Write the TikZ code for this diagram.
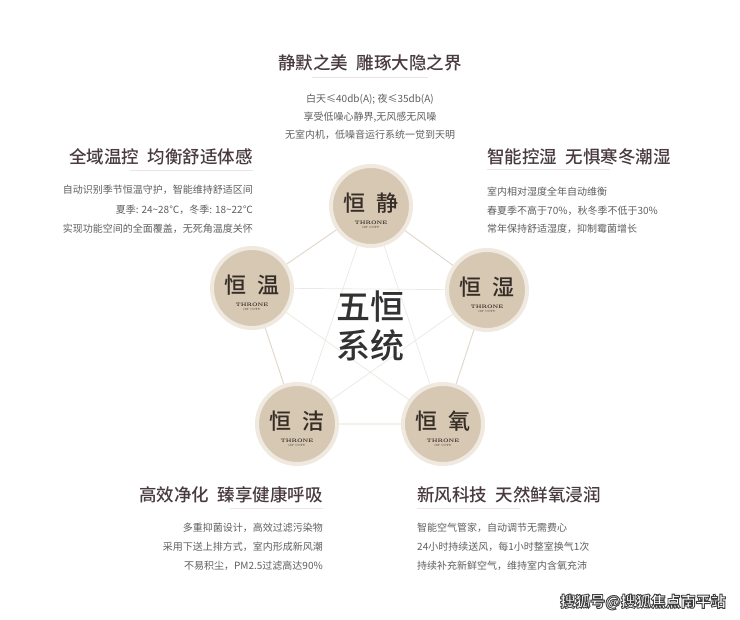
\documentclass[tikz,border=0pt]{standalone}
\usepackage{fontspec}
\newfontfamily\cjk{Noto Sans CJK SC}
\IfFontExistsTF{Noto Sans CJK SC Medium}
  {\newfontfamily\song{Noto Sans CJK SC Medium}[BoldFont=Noto Sans CJK SC Bold]}
  {\newfontfamily\song{Noto Sans CJK SC}}
\definecolor{titlec}{RGB}{72,58,62}
\definecolor{bodyc}{RGB}{95,95,95}
\definecolor{ballc}{RGB}{214,200,178}
\definecolor{ringc}{RGB}{240,233,224}
\definecolor{ctextc}{RGB}{55,45,40}
\definecolor{centerc}{RGB}{50,50,50}
\definecolor{edgec}{RGB}{224,215,202}
\definecolor{starc}{RGB}{237,233,226}
\definecolor{ulinec}{RGB}{234,230,232}
\begin{document}
\begin{tikzpicture}[x=1pt,y=-1pt,
  ttl/.style={font=\song\fontsize{17.5}{17.5}\selectfont, text=titlec, inner sep=0},
  body/.style={font=\cjk\fontsize{10}{10}\selectfont, text=bodyc, inner sep=0},
  ball/.style={circle, fill=ballc, draw=ringc, line width=4pt, minimum size=80pt, inner sep=0},
  ctext/.style={font=\song\fontsize{22}{22}\selectfont, text=ctextc, inner sep=0},
  brand/.style={font=\rmfamily\bfseries\fontsize{5}{5}\selectfont, text=ctextc, inner sep=0},
  brandsub/.style={font=\rmfamily\fontsize{3}{3}\selectfont, text=ctextc, inner sep=0},
  bigc/.style={font=\song\fontsize{34}{34}\selectfont, text=centerc, inner sep=0},
  pedge/.style={draw=edgec, line width=0.9pt},
  sedge/.style={draw=starc, line width=0.7pt},
  uline/.style={draw=ulinec, line width=1pt},
  wm/.style={font=\cjk\bfseries\fontsize{15}{15}\selectfont, inner sep=0}
]
\fill[white] (0,0) rectangle (740,620);
\useasboundingbox (0,0) rectangle (740,620);

% circle centres
\coordinate (cjing) at (371,206);
\coordinate (cwen) at (252,288);
\coordinate (cshi) at (487,290);
\coordinate (cjie) at (297,424);
\coordinate (cyang) at (443,424);

% star (faint) and pentagon edges
\draw[sedge] (cjing) -- (cjie);
\draw[sedge] (cjing) -- (cyang);
\draw[sedge] (cwen) -- (cshi);
\draw[sedge] (cwen) -- (cyang);
\draw[sedge] (cshi) -- (cjie);
\draw[pedge] (cjing) -- (cshi) -- (cyang) -- (cjie) -- (cwen) -- cycle;

% circles
\foreach \n/\a/\b in {cjing/恒/静, cwen/恒/温, cshi/恒/湿, cjie/恒/洁, cyang/恒/氧}{
  \node[ball] (b\n) at (\n) {};
  \node[ctext] (t\n) at ([yshift=3pt]\n) {\a\hspace{0.5em}\b};
  \node[brand] (r\n) at ([yshift=-16.5pt]\n) {THRONE};
  \node[brandsub] (s\n) at ([yshift=-21pt]\n) {OF CITY};
}

% centre text
\node[bigc] (c1) at (370,307) {五恒};
\node[bigc] (c2) at (370,345) {系统};

% top block
\node[ttl] (tt) at (370,63) {静默之美\hspace{0.5em}雕琢大隐之界};
\draw[uline] (312,78) -- (428,78);
\node[body] (t1) at (370,99) {白天≤40db(A); 夜≤35db(A)};
\node[body] (t2) at (370,117) {享受低噪心静界,无风感无风噪};
\node[body] (t3) at (370,135) {无室内机，低噪音运行系统一觉到天明};

% left block
\node[ttl, anchor=east] (lt) at (253,157) {全域温控\hspace{0.5em}均衡舒适体感};
\draw[uline] (130,171) -- (253,171);
\node[body, anchor=east] (l1) at (253,190) {自动识别季节恒温守护，智能维持舒适区间};
\node[body, anchor=east] (l2) at (253,210) {夏季: 24\textasciitilde 28℃，冬季: 18\textasciitilde 22℃};
\node[body, anchor=east] (l3) at (253,229) {实现功能空间的全面覆盖，无死角温度关怀};

% right block
\node[ttl, anchor=west] (rt) at (487,157) {智能控湿\hspace{0.5em}无惧寒冬潮湿};
\draw[uline] (487,170) -- (610,170);
\node[body, anchor=west] (r1) at (487,192) {室内相对湿度全年自动维衡};
\node[body, anchor=west] (r2) at (487,211) {春夏季不高于70\%，秋冬季不低于30\%};
\node[body, anchor=west] (r3) at (487,229) {常年保持舒适湿度，抑制霉菌增长};

% bottom left block
\node[ttl, anchor=east] (blt) at (323,495) {高效净化\hspace{0.5em}臻享健康呼吸};
\draw[uline] (230,509) -- (323,509);
\node[body, anchor=east] (bl1) at (323,528) {多重抑菌设计，高效过滤污染物};
\node[body, anchor=east] (bl2) at (323,547) {采用下送上排方式，室内形成新风潮};
\node[body, anchor=east] (bl3) at (323,566) {不易积尘，PM2.5过滤高达90\%};

% bottom right block
\node[ttl, anchor=west] (brt) at (417,495) {新风科技\hspace{0.5em}天然鲜氧浸润};
\draw[uline] (417,509) -- (520,509);
\node[body, anchor=west] (br1) at (417,528) {智能空气管家，自动调节无需费心};
\node[body, anchor=west] (br2) at (417,547) {24小时持续送风，每1小时整室换气1次};
\node[body, anchor=west] (br3) at (417,566) {持续补充新鲜空气，维持室内含氧充沛};

% watermark: white fill with dark outline (text render mode 2)
\node[wm, text=white] (wmk) at (643,602)
  {\special{pdf:literal direct 2 Tr 0.9 w 0.25 0.25 0.25 RG}搜狐号@搜狐焦点南平站\special{pdf:literal direct 0 Tr}};
\end{tikzpicture}
\end{document}
